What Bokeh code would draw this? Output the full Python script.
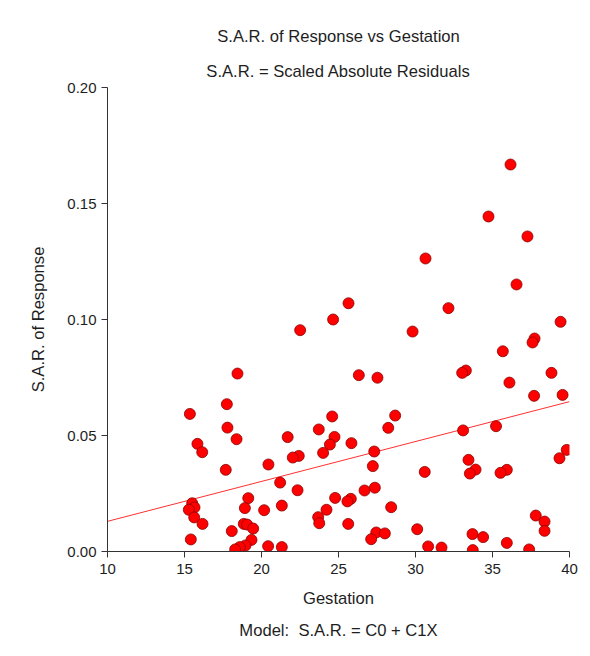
from bokeh.plotting import figure
from bokeh.models import Title, FixedTicker, NumeralTickFormatter, Range1d
from bokeh.embed import file_html
from bokeh.resources import INLINE

# Data
gestation = [36.17, 34.74, 37.27, 30.65, 36.56, 25.65, 32.14, 24.65, 39.42, 22.51,
             29.81, 37.73, 37.60, 35.67, 33.27, 33.03, 38.83, 18.44, 26.32, 27.53,
             36.10, 37.70, 39.55, 17.75, 15.35, 24.59, 28.68, 35.23, 17.79, 28.23,
             23.72, 33.09, 21.70, 24.74, 18.38, 25.84, 15.84, 24.44, 39.82, 27.32,
             16.15, 24.00, 22.42, 22.03, 39.35, 33.44, 20.45, 27.23, 17.68, 33.90,
             35.93, 30.60, 35.52, 33.53, 21.21, 27.36, 22.34, 26.69, 24.78, 19.14,
             25.80, 25.58, 15.50, 21.32, 28.42, 15.65, 18.92, 15.28, 24.22, 20.17,
             37.81, 23.68, 15.63, 38.38, 23.75, 16.17, 18.85, 25.63, 19.07, 19.46,
             30.11, 38.38, 18.07, 27.45, 28.01, 33.70, 34.39, 27.12, 15.41, 19.35,
             35.93, 18.96, 20.43, 30.82, 18.59, 21.32, 31.69, 18.29, 37.38, 33.72]
sar = [0.1668, 0.1444, 0.1358, 0.1263, 0.1151, 0.1070, 0.1049, 0.1000, 0.0990, 0.0954,
       0.0948, 0.0918, 0.0901, 0.0863, 0.0780, 0.0770, 0.0770, 0.0767, 0.0760, 0.0749,
       0.0728, 0.0671, 0.0675, 0.0635, 0.0593, 0.0582, 0.0586, 0.0540, 0.0534, 0.0533,
       0.0526, 0.0522, 0.0493, 0.0494, 0.0484, 0.0467, 0.0464, 0.0461, 0.0438, 0.0431,
       0.0428, 0.0425, 0.0412, 0.0405, 0.0402, 0.0395, 0.0375, 0.0368, 0.0352, 0.0353,
       0.0352, 0.0343, 0.0339, 0.0336, 0.0297, 0.0275, 0.0264, 0.0263, 0.0231, 0.0230,
       0.0227, 0.0216, 0.0208, 0.0198, 0.0191, 0.0190, 0.0187, 0.0180, 0.0180, 0.0178,
       0.0155, 0.0148, 0.0147, 0.0129, 0.0122, 0.0119, 0.0119, 0.0119, 0.0116, 0.0099,
       0.0096, 0.0089, 0.0088, 0.0082, 0.0078, 0.0075, 0.0062, 0.0053, 0.0052, 0.0050,
       0.0037, 0.0026, 0.0023, 0.0022, 0.0019, 0.0019, 0.0017, 0.0009, 0.0009, 0.0006]

x_ticks = [10, 15, 20, 25, 30, 35, 40]
y_ticks = [0.0, 0.05, 0.10, 0.15, 0.20]

# Model: S.A.R. = C0 + C1X
c0 = -0.0042
c1 = 0.00172
fit_x = [10, 40]
fit_y = [c0 + c1 * x for x in fit_x]

FONT = "Liberation Sans"
TXT = "#1e1e1e"
TSIZE = "16.6px"

p = figure(width=582, height=648, x_range=Range1d(10, 40), y_range=Range1d(0, 0.2),
           output_backend="svg", toolbar_location=None, title=None,
           min_border_left=107, min_border_right=13, min_border_top=87, min_border_bottom=97,
           background_fill_color="white", border_fill_color="white")
p.outline_line_color = None
p.xgrid.visible = False
p.ygrid.visible = False

p.line(fit_x, fit_y, line_color="#ff3030", line_width=1)
p.scatter(gestation, sar, size=11, fill_color="#ff0000", line_color="#8a0000", line_width=0.8)

for ax in (p.xaxis[0], p.yaxis[0]):
    ax.axis_line_color = "#333333"
    ax.major_tick_line_color = "#333333"
    ax.minor_tick_line_color = None
    ax.major_tick_out = 6
    ax.major_tick_in = 0
    ax.major_label_text_font = FONT
    ax.major_label_text_font_size = "15px"
    ax.major_label_text_color = TXT
    ax.axis_label_text_font = FONT
    ax.axis_label_text_font_size = TSIZE
    ax.axis_label_text_font_style = "normal"
    ax.axis_label_text_color = TXT

p.xaxis.ticker = FixedTicker(ticks=x_ticks)
p.yaxis.ticker = FixedTicker(ticks=y_ticks)
p.yaxis.formatter = NumeralTickFormatter(format="0.00")
p.xaxis.major_label_standoff = 6
p.yaxis.major_label_standoff = 5
p.xaxis.axis_label = "Gestation"
p.yaxis.axis_label = "S.A.R. of Response"
p.xaxis.axis_label_standoff = 12
p.yaxis.axis_label_standoff = 16

sub = Title(text="S.A.R. = Scaled Absolute Residuals", align="center", text_font=FONT,
            text_font_size=TSIZE, text_font_style="normal", text_color=TXT, standoff=14)
main = Title(text="S.A.R. of Response vs Gestation", align="center", text_font=FONT,
             text_font_size=TSIZE, text_font_style="normal", text_color=TXT, standoff=14)
p.add_layout(sub, "above")
p.add_layout(main, "above")

model = Title(text="Model:\u00a0 S.A.R. = C0 + C1X", align="center", text_font=FONT,
              text_font_size=TSIZE, text_font_style="normal", text_color=TXT, standoff=16)
p.add_layout(model, "below")

open("out.html", "w").write(file_html(p, INLINE))
